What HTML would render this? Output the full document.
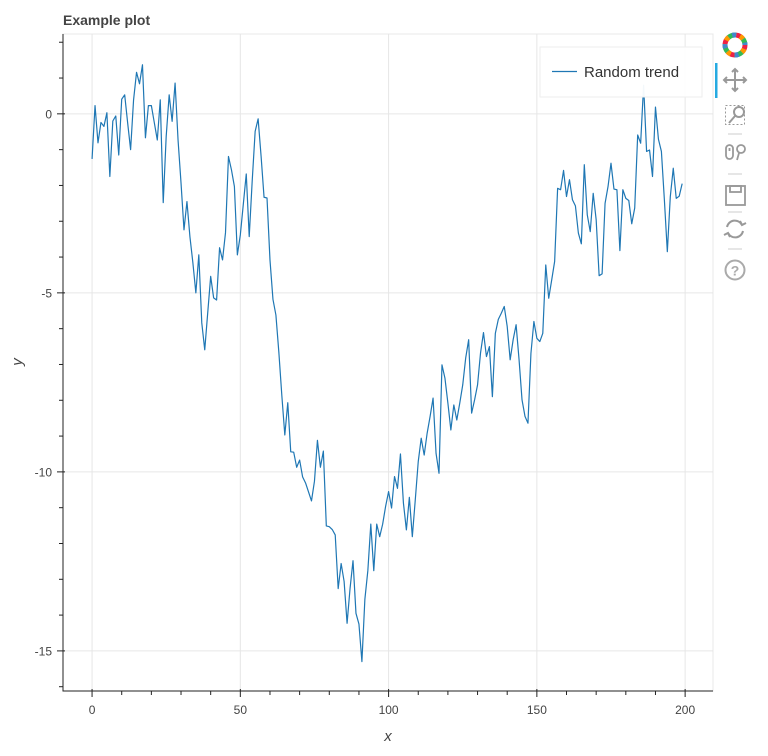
<!DOCTYPE html>
<html><head><meta charset="utf-8"><style>
html,body{margin:0;padding:0;background:#fff;width:768px;height:756px;overflow:hidden}
svg{display:block;font-family:"Liberation Sans",sans-serif}
</style></head><body>
<svg id="chart" width="768" height="756" viewBox="0 0 768 756">
<text x="63" y="25" font-size="14" font-weight="bold" fill="#444">Example plot</text>
<rect x="63" y="34" width="650" height="657" fill="none" stroke="#e8e8e8"/>
<g id="grid"></g>
<g id="series"></g>
<g id="axes"></g>
<text x="388" y="741" font-size="15" font-style="italic" fill="#444" text-anchor="middle">x</text>
<text x="0" y="0" font-size="15" font-style="italic" fill="#444" text-anchor="middle" transform="translate(22,362) rotate(-90)">y</text>
<g>
<rect x="540" y="47" width="162" height="50" fill="#fff" fill-opacity="0.95" stroke="#eee"/>
<line x1="552" y1="71.5" x2="577" y2="71.5" stroke="#1f77b4" stroke-width="1.2"/>
<text x="584" y="77" font-size="15" fill="#333">Random trend</text>
</g>
<g>
<g>
<circle cx="735" cy="45" r="10" fill="none" stroke="#e24" stroke-width="5" stroke-dasharray="8 8"/>
<circle cx="735" cy="45" r="10" fill="none" stroke="#3b5" stroke-width="5" stroke-dasharray="8 8" stroke-dashoffset="8"/>
<circle cx="735" cy="45" r="10" fill="none" stroke="#48c" stroke-width="5" stroke-dasharray="4 12" stroke-dashoffset="4"/>
<circle cx="735" cy="45" r="10" fill="none" stroke="#f90" stroke-width="5" stroke-dasharray="4 12" stroke-dashoffset="12"/>
</g>
<rect x="715" y="63" width="2.5" height="35" fill="#26aae1"/>
<g stroke="#999" stroke-width="2" fill="none">
<line x1="725" y1="80" x2="745" y2="80"/><line x1="735" y1="70" x2="735" y2="90"/>
<path d="M727 77 L724 80 L727 83 M743 77 L746 80 L743 83 M732 72 L735 69 L738 72 M732 88 L735 91 L738 88"/>
</g>
<g stroke="#999" fill="none">
<rect x="725.5" y="105.5" width="19" height="19" stroke-dasharray="2 2"/>
<circle cx="739" cy="112" r="5" stroke-width="2"/><line x1="735" y1="116" x2="729" y2="123" stroke-width="2"/>
</g>
<line x1="728" y1="134" x2="742" y2="134" stroke="#ccc"/>
<g stroke="#999" fill="none" stroke-width="1.8">
<rect x="726" y="145" width="7" height="14" rx="3.5"/><line x1="729.5" y1="148" x2="729.5" y2="151"/>
<circle cx="741" cy="149" r="4"/><line x1="739" y1="153" x2="737" y2="160"/>
</g>
<line x1="728" y1="174" x2="742" y2="174" stroke="#ccc"/>
<g stroke="#999" fill="none" stroke-width="1.8">
<rect x="726" y="186" width="19" height="19"/><rect x="730" y="186" width="11" height="6"/>
</g>
<line x1="728" y1="212" x2="742" y2="212" stroke="#ccc"/>
<g stroke="#999" fill="none" stroke-width="2">
<path d="M727 227 A8 8 0 0 1 742 225 M743 231 A8 8 0 0 1 728 233"/>
<path d="M740 221 L742 225 L746 223 M730 237 L728 233 L724 235"/>
</g>
<line x1="728" y1="249" x2="742" y2="249" stroke="#ccc"/>
<g>
<circle cx="735" cy="270" r="9.5" fill="none" stroke="#aaa" stroke-width="2"/>
<text x="735" y="275.5" font-size="14" font-weight="bold" fill="#aaa" text-anchor="middle">?</text>
</g>
</g>
</svg>
<script>
const yValues = [
-1.26,0.23,-0.81,-0.24,-0.35,0.03,-1.75,-0.2,-0.06,-1.15,
0.41,0.53,-0.25,-1.0,0.39,1.16,0.84,1.37,-0.67,0.23,
0.23,-0.25,-0.73,0.39,-2.48,-0.63,0.53,-0.21,0.86,-0.73,
-1.93,-3.24,-2.45,-3.43,-4.16,-5.0,-3.94,-5.84,-6.59,-5.56,
-4.54,-5.14,-5.2,-3.74,-4.08,-3.32,-1.19,-1.56,-2.03,-3.94,
-3.38,-2.53,-1.68,-3.43,-1.88,-0.49,-0.14,-1.18,-2.33,-2.35,
-4.08,-5.18,-5.62,-6.67,-7.87,-8.97,-8.07,-9.44,-9.45,-9.87,
-9.67,-10.14,-10.31,-10.56,-10.81,-10.26,-9.12,-9.87,-9.42,-11.51,
-11.53,-11.61,-11.76,-13.26,-12.56,-13.06,-14.23,-13.26,-12.48,-13.95,
-14.25,-15.3,-13.56,-12.76,-11.46,-12.76,-11.46,-11.81,-11.46,-10.96,
-10.55,-11.01,-10.13,-10.46,-9.5,-10.87,-11.62,-10.71,-11.81,-10.78,
-9.71,-9.06,-9.53,-8.92,-8.45,-7.94,-9.48,-10.04,-7.01,-7.38,
-8.08,-8.83,-8.13,-8.55,-8.08,-7.57,-6.82,-6.31,-8.36,-7.99,
-7.57,-6.68,-6.11,-6.78,-6.5,-7.9,-6.13,-5.74,-5.57,-5.38,
-5.94,-6.87,-6.31,-5.89,-6.87,-7.99,-8.45,-8.64,-6.69,-5.8,
-6.27,-6.36,-6.13,-4.22,-5.15,-4.64,-4.12,-2.08,-2.12,-1.58,
-2.31,-1.84,-2.4,-2.57,-3.33,-3.63,-1.42,-2.82,-3.29,-2.22,
-2.96,-4.52,-4.47,-2.5,-2.03,-1.38,-2.1,-2.12,-3.82,-2.12,
-2.36,-2.42,-3.07,-2.63,-0.59,-0.82,0.8,-1.05,-1.01,-1.75,
0.19,-0.71,-1.05,-2.4,-3.85,-2.31,-1.52,-2.36,-2.3,-1.95
];
const xTicks = [0,50,100,150,200];
const yTicks = [0,-5,-10,-15];
const xDomain = [-9.8,209.4];
const yDomain = [-16.12,2.23];

const L=63,R=713,T=34,B=691;
function sx(v){return L+(v-xDomain[0])/(xDomain[1]-xDomain[0])*(R-L);}
function sy(v){return B-(v-yDomain[0])/(yDomain[1]-yDomain[0])*(B-T);}
const NS='http://www.w3.org/2000/svg';
function mk(tag,attrs,parent){const e=document.createElementNS(NS,tag);for(const k in attrs)e.setAttribute(k,attrs[k]);parent.appendChild(e);return e;}
const grid=document.getElementById('grid'),axes=document.getElementById('axes'),series=document.getElementById('series');
xTicks.forEach(t=>{
  const g=mk('line',{x1:sx(t),x2:sx(t),y1:T,y2:B,stroke:'#e6e6e6'},grid);
  
  
});
yTicks.forEach(t=>{
  const g=mk('line',{x1:L,x2:R,y1:sy(t),y2:sy(t),stroke:'#e6e6e6'},grid);
  
  
});
const pts=yValues.map((v,i)=>sx(i).toFixed(2)+','+sy(v).toFixed(2)).join(' ');
const pl=mk('polyline',{points:pts,fill:'none',stroke:'#1f77b4','stroke-width':1.2,'stroke-linejoin':'round'},series);


const ax=mk('line',{x1:L,x2:L,y1:T,y2:B+0.5,stroke:'#222','stroke-width':1},axes);


const bx=mk('line',{x1:L-0.5,x2:R,y1:B,y2:B,stroke:'#222','stroke-width':1},axes);


for(let v=0;v<=200;v+=10){
  const major=v%50===0;
  const tk=mk('line',{x1:sx(v),x2:sx(v),y1:major?B-2:B,y2:major?B+6:B+4,stroke:'#222'},axes);
  
  
}
xTicks.forEach(t=>{
  const tx=mk('text',{x:sx(t),y:B+23,'font-size':12,fill:'#444','text-anchor':'middle'},axes);
  tx.textContent=String(t);
  
  
});
for(let v=2;v>=-16;v--){
  const major=v%5===0;
  const tk=mk('line',{x1:major?L-6:L-4,x2:major?L+2:L,y1:sy(v),y2:sy(v),stroke:'#222'},axes);
  
  
}
yTicks.forEach(t=>{
  const tx=mk('text',{x:L-11,y:sy(t)+4.5,'font-size':12,fill:'#444','text-anchor':'end'},axes);
  tx.textContent=String(t);
  
  
});
</script>
</body></html>
